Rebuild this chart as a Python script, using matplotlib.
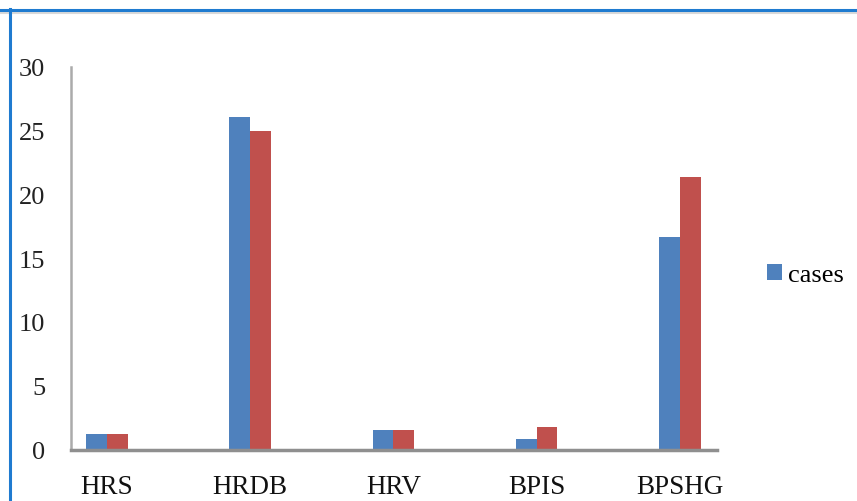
import matplotlib
matplotlib.use("Agg")
import matplotlib.pyplot as plt
from matplotlib.lines import Line2D
import numpy as np

categories = ["HRS", "HRDB", "HRV", "BPIS", "BPSHG"]
cases = [1.2, 26.1, 1.5, 0.8, 16.7]
controls = [1.2, 25.0, 1.5, 1.8, 21.4]
y_ticks = [0, 5, 10, 15, 20, 25, 30]

blue = "#4F81BD"
red = "#C0504D"
font = "Liberation Serif"

fig = plt.figure(figsize=(8.57, 5.02), dpi=100)
fig.patch.set_facecolor("white")

# outer frame lines (top and left edge)
fig.add_artist(Line2D([0.0, 1.0], [1 - 13.5 / 502, 1 - 13.5 / 502], transform=fig.transFigure,
                      color="#D9D9D9", lw=1.5))
fig.add_artist(Line2D([0.0, 1.0], [1 - 11 / 502, 1 - 11 / 502], transform=fig.transFigure,
                      color="#1F7BD0", lw=2.2))
fig.add_artist(Line2D([10 / 857, 10 / 857], [0.0, 1 - 10 / 502], transform=fig.transFigure,
                      color="#1F7BD0", lw=2.2))

left, right = 71 / 857, 717 / 857
bottom, top = 1 - 450.5 / 502, 1 - 68 / 502
ax = fig.add_axes([left, bottom, right - left, top - bottom])

x = np.arange(len(categories))
w = 0.145
ax.bar(x - w / 2, cases, width=w, color=blue, label="cases")
ax.bar(x + w / 2, controls, width=w, color=red)

ax.set_xlim(-0.252, 4.26)
ax.set_ylim(0, 30)

for s in ["top", "right"]:
    ax.spines[s].set_visible(False)
ax.spines["left"].set_color("#ABABAB")
ax.spines["left"].set_linewidth(1.8)
ax.spines["bottom"].set_color("#8F8F8F")
ax.spines["bottom"].set_linewidth(2.5)
ax.spines["bottom"].set_zorder(5)

ax.set_yticks(y_ticks)
ax.set_yticklabels([str(t) for t in y_ticks], fontfamily=font, fontsize=19, color="#222222")
ax.set_xticks(x)
ax.set_xticklabels(categories, fontfamily=font, fontsize=19.5, color="#111111")
ax.tick_params(axis="y", length=0, pad=18.5)
ax.tick_params(axis="x", length=0, pad=18)

leg = ax.legend(loc="center left", bbox_to_anchor=(1.077, 0.456), frameon=False,
                prop={"family": font, "size": 19}, handlelength=0.57, handleheight=0.57,
                handletextpad=0.22, borderpad=0, borderaxespad=0)

fig.savefig("out.png", dpi=100, facecolor="white")
